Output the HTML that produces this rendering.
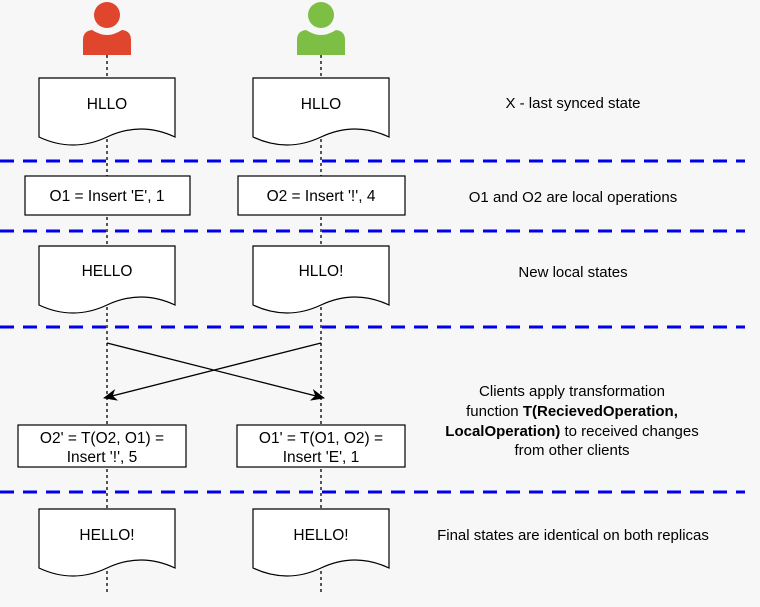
<!DOCTYPE html>
<html><head><meta charset="utf-8"><style>
html,body{margin:0;padding:0;background:#f7f7f7;}
svg{display:block;font-family:"Liberation Sans",Arial,sans-serif;}
</style></head><body>
<svg width="760" height="607" viewBox="0 0 760 607" xmlns="http://www.w3.org/2000/svg">
<defs>
<marker id="ah" markerWidth="14" markerHeight="12" refX="13" refY="6" orient="auto" markerUnits="userSpaceOnUse">
<path d="M0,0 L14,6 L0,12 L4,6 Z" fill="#000"/>
</marker>
<g id="doc">
<path d="M0,0 H136 V59 Q102,43 68,59 Q34,75 0,59 Z" fill="#fff" stroke="#000" stroke-width="1.2"/>
</g>
</defs>
<rect width="760" height="607" fill="#f7f7f7"/>
<g stroke="#000" stroke-width="1.3" stroke-dasharray="3,3">
<line x1="107" y1="55" x2="107" y2="592"/>
<line x1="321" y1="55" x2="321" y2="592"/>
</g>
<g fill="#e0452d">
<circle cx="107" cy="15" r="13"/>
<path d="M83,55 V40 Q83,31 92,30 Q100,35 107,35 Q114,35 122,30 Q131,31 131,40 V55 Z"/>
</g>
<g fill="#7dbf45">
<circle cx="321" cy="15" r="13"/>
<path d="M297,55 V40 Q297,31 306,30 Q314,35 321,35 Q328,35 336,30 Q345,31 345,40 V55 Z"/>
</g>
<g stroke="#0000ee" stroke-width="3" stroke-dasharray="14,9">
<line x1="0" y1="161" x2="745" y2="161"/>
<line x1="0" y1="231" x2="745" y2="231"/>
<line x1="0" y1="327" x2="745" y2="327"/>
<line x1="0" y1="492" x2="745" y2="492"/>
</g>
<use href="#doc" x="39" y="78"/>
<use href="#doc" x="253" y="78"/>
<use href="#doc" x="39" y="246"/>
<use href="#doc" x="253" y="246"/>
<use href="#doc" x="39" y="509"/>
<use href="#doc" x="253" y="509"/>
<g font-size="15.5" text-anchor="middle" fill="#000">
<text x="107" y="109">HLLO</text>
<text x="321" y="109">HLLO</text>
<text x="107" y="276">HELLO</text>
<text x="321" y="276">HLLO!</text>
<text x="107" y="540">HELLO!</text>
<text x="321" y="540">HELLO!</text>
</g>
<rect x="25" y="176" width="165" height="39" fill="#fff" stroke="#000" stroke-width="1.2"/>
<rect x="238" y="176" width="167" height="39" fill="#fff" stroke="#000" stroke-width="1.2"/>
<rect x="18" y="425" width="168" height="42" fill="#fff" stroke="#000" stroke-width="1.2"/>
<rect x="237" y="425" width="168" height="42" fill="#fff" stroke="#000" stroke-width="1.2"/>
<g font-size="15.5" text-anchor="middle" fill="#000">
<text x="107" y="201">O1 = Insert 'E', 1</text>
<text x="321" y="201">O2 = Insert '!', 4</text>
<text x="102" y="443">O2' = T(O2, O1) =</text>
<text x="102" y="462">Insert '!', 5</text>
<text x="321" y="443">O1' = T(O1, O2) =</text>
<text x="321" y="462">Insert 'E', 1</text>
</g>
<g stroke="#000" stroke-width="1.3" fill="none">
<line x1="107" y1="343" x2="324" y2="398" marker-end="url(#ah)"/>
<line x1="321" y1="343" x2="104" y2="398" marker-end="url(#ah)"/>
</g>
<g font-size="15" text-anchor="middle" fill="#000">
<text x="573" y="108">X - last synced state</text>
<text x="573" y="202">O1 and O2 are local operations</text>
<text x="573" y="277">New local states</text>
<text x="572" y="396">Clients apply transformation</text>
<text x="572" y="416">function <tspan font-weight="bold">T(RecievedOperation,</tspan></text>
<text x="572" y="436"><tspan font-weight="bold">LocalOperation)</tspan> to received changes</text>
<text x="572" y="455">from other clients</text>
<text x="573" y="540">Final states are identical on both replicas</text>
</g>
</svg>
</body></html>
